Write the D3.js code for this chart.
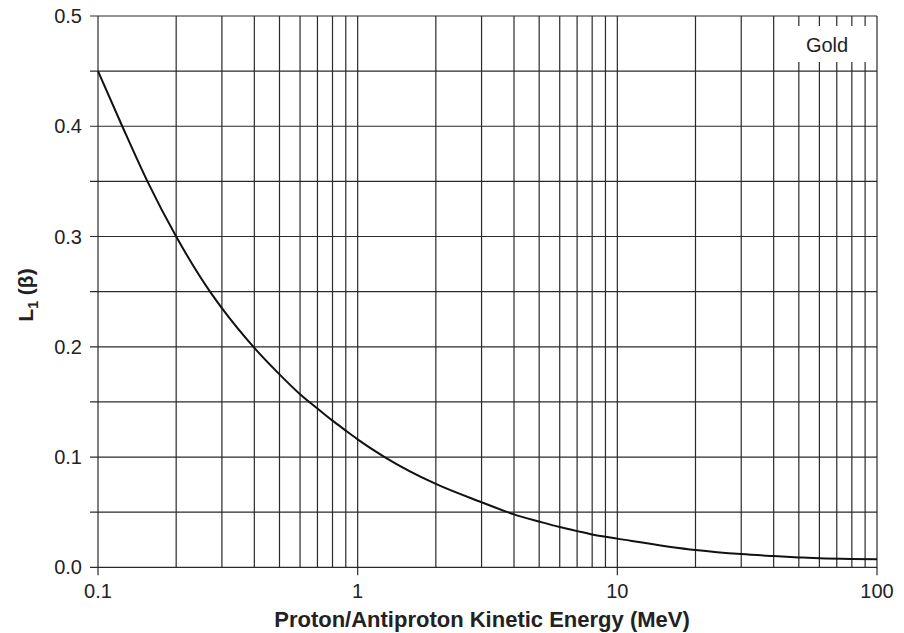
<!DOCTYPE html>
<html>
<head>
<meta charset="utf-8">
<script src="https://cdn.jsdelivr.net/npm/d3@7"></script>
<style>
  body { margin: 0; background: #fff; }
  svg { display: block; font-family: "Liberation Sans", Arial, Helvetica, sans-serif; }
</style>
</head>
<body>
<svg width="904" height="633"></svg>
<script>
// values
const energy = [0.1, 0.124, 0.155, 0.2, 0.27, 0.3, 0.4, 0.5, 0.6, 0.7, 0.8, 0.9, 1, 1.27, 2, 3, 4, 5, 6, 7, 8, 9, 10, 20, 30, 40, 50, 60, 80, 100];
const L1 = [0.45, 0.40, 0.35, 0.30, 0.25, 0.235, 0.199, 0.175, 0.157, 0.144, 0.133, 0.124, 0.116, 0.10, 0.0756, 0.059, 0.048, 0.0415, 0.0365, 0.0328, 0.0298, 0.0277, 0.026, 0.0157, 0.012, 0.0102, 0.009, 0.0082, 0.0076, 0.0074];
const yTicks = [0, 0.1, 0.2, 0.3, 0.4, 0.5];
const yGrid = d3.range(0, 0.501, 0.05);
const xMajor = [0.1, 1, 10, 100];
const xLabels = ["0.1", "1", "10", "100"];
const yLabels = ["0.0", "0.1", "0.2", "0.3", "0.4", "0.5"];

const plotLeft = 98, plotRight = 877, plotTop = 16, plotBottom = 567.3;

const svg = d3.select("svg");

const x = d3.scaleLog().domain([0.1, 100]).range([plotLeft, plotRight]);
const y = d3.scaleLinear().domain([0, 0.5]).range([plotBottom, plotTop]);

// all minor + major values for vertical grid
let xGrid = [];
[0.1, 1, 10].forEach(d => {
  for (let k = 1; k <= 9; k++) xGrid.push(d * k);
});
xGrid.push(100);

const gridColor = "#2a2a2a";

let grid = svg.append("g").attr("class", "grid");

grid.selectAll("line.v")
  .data(xGrid)
  .enter()
  .append("line")
  .attr("class", "v")
  .attr("x1", d => x(d))
  .attr("x2", d => x(d))
  .attr("y1", y(0.5))
  .attr("y2", d => xMajor.some(m => Math.abs(m - d) < 1e-9) ? plotBottom + 8 : plotBottom)
  .attr("stroke", gridColor)
  .attr("stroke-width", 1.2);

grid.selectAll("line.h")
  .data(yGrid)
  .enter()
  .append("line")
  .attr("class", "h")
  .attr("x1", plotLeft - 8)
  .attr("x2", plotRight)
  .attr("y1", d => y(d))
  .attr("y2", d => y(d))
  .attr("stroke", gridColor)
  .attr("stroke-width", 1.2);

// Gold label box masks the gridlines
svg.append("rect")
  .attr("x", 783)
  .attr("y", 26)
  .attr("width", 88)
  .attr("height", 36)
  .attr("fill", "#fff");

svg.append("text")
  .attr("x", 827)
  .attr("y", 52)
  .attr("text-anchor", "middle")
  .attr("font-size", 20)
  .attr("fill", "#222")
  .text("Gold");

// curve
let line = d3.line()
  .x((d, i) => x(energy[i]))
  .y(d => y(d))
  .curve(d3.curveMonotoneX);

svg.append("path")
  .datum(L1)
  .attr("d", line)
  .attr("fill", "none")
  .attr("stroke", "#111")
  .attr("stroke-width", 2);

// tick labels
svg.append("g")
  .selectAll("text")
  .data(yTicks)
  .enter()
  .append("text")
  .attr("x", 82)
  .attr("y", d => y(d) + 7)
  .attr("text-anchor", "end")
  .attr("font-size", 20)
  .attr("fill", "#222")
  .text((d, i) => yLabels[i]);

svg.append("g")
  .selectAll("text")
  .data(xMajor)
  .enter()
  .append("text")
  .attr("x", d => x(d))
  .attr("y", 598)
  .attr("text-anchor", "middle")
  .attr("font-size", 20)
  .attr("fill", "#222")
  .text((d, i) => xLabels[i]);

// axis titles
svg.append("text")
  .attr("x", 482)
  .attr("y", 627)
  .attr("text-anchor", "middle")
  .attr("font-size", 22)
  .attr("font-weight", "bold")
  .attr("fill", "#222")
  .text("Proton/Antiproton Kinetic Energy (MeV)");

let yt = svg.append("text")
  .attr("transform", "translate(33,295) rotate(-90)")
  .attr("text-anchor", "middle")
  .attr("font-size", 21)
  .attr("font-weight", "bold")
  .attr("fill", "#222");
yt.append("tspan").text("L");
yt.append("tspan").attr("font-size", 14).attr("dy", 5).text("1");
yt.append("tspan").attr("dy", -5).text(" (β)");
</script>
</body>
</html>
